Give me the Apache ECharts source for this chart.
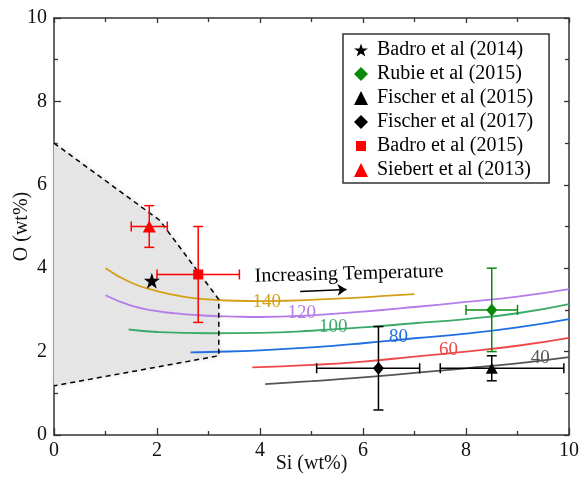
<!DOCTYPE html>
<html>
<head>
<meta charset="utf-8">
<script src="https://cdn.jsdelivr.net/npm/echarts@6/dist/echarts.min.js"></script>
<style>html,body{margin:0;padding:0;background:#fff}#c{width:580px;height:477px}</style>
</head>
<body>
<div id="c"></div>
<script>
// ---- data ----
const xTicks = [0, 2, 4, 6, 8, 10];
const yTicks = [0, 2, 4, 6, 8, 10];
// measured points: [x, y, xLow, xHigh, yLow, yHigh]
const badro2014 = [[1.9, 3.7]];
const rubie2015 = [[8.5, 3.0, 8.0, 9.0, 2.0, 4.0]];
const fischer2015 = [[8.5, 1.6, 7.5, 9.9, 1.3, 1.9]];
const fischer2017 = [[6.3, 1.6, 5.1, 7.1, 0.6, 2.6]];
const badro2015 = [[2.8, 3.85, 2.0, 3.6, 2.7, 5.0]];
const siebert2013 = [[1.85, 5.0, 1.5, 2.2, 4.5, 5.5]];
// isotherm-like curves
const curve140 = [[1.0,4.0],[1.5,3.65],[2,3.45],[2.5,3.32],[3,3.25],[3.5,3.22],[4,3.21],[4.5,3.22],[5,3.24],[5.5,3.27],[6,3.3],[6.5,3.34],[7,3.38]];
const curve120 = [[1.0,3.35],[1.5,3.1],[2,2.97],[2.5,2.9],[3,2.86],[3.5,2.84],[4,2.83],[5,2.87],[6,2.96],[7,3.07],[8,3.19],[9,3.32],[10,3.5]];
const curve100 = [[1.45,2.53],[2,2.47],[3,2.44],[4,2.45],[5,2.5],[6,2.58],[7,2.68],[8,2.78],[9,2.92],[10,3.14]];
const curve80 = [[2.65,1.98],[3,1.99],[4,2.03],[5,2.1],[6,2.2],[7,2.32],[8,2.43],[9,2.58],[10,2.78]];
const curve60 = [[3.85,1.62],[5,1.68],[6,1.76],[7,1.88],[8,2.0],[9,2.14],[10,2.33]];
const curve40 = [[4.1,1.22],[5,1.29],[6,1.38],[7,1.49],[8,1.6],[9,1.72],[10,1.87]];
const curveLabels = ['140', '120', '100', '80', '60', '40'];
const curveLabelPos = [[4.13,3.2],[4.81,2.92],[5.42,2.58],[6.69,2.34],[7.66,2.04],[9.44,1.84]];
// shaded region outline
const regionOutline = [[0,7.0],[2.05,5.15],[3.2,3.25],[3.2,1.9],[0,1.18]];
const arrowText = 'Increasing Temperature';
const arrowTextPos = [[5.73, 3.86]];
const arrowLine = [[4.78, 3.44],[5.68, 3.49]];

// ---- chart ----
const FONT = 'Liberation Serif';
const curveColors = ['#d4a017','#b57be8','#3aaa6a','#1f6fe0','#f04848','#555555'];
const STAR = 'path://M50,0 L61.8,35.3 L99,35.3 L69,57.3 L80.4,92.7 L50,70.8 L19.6,92.7 L31,57.3 L1,35.3 L38.2,35.3 Z';
const SMALLRECT = 'path://M0,0 L100,0 L100,100 L0,100 Z M-20,-20 L-20,-20.01 Z M120,120 L120,120.01 Z';

function errRender(color) {
  return function (params, api) {
    const y = api.value(1), x = api.value(0);
    const a = api.coord([api.value(2), y]), b = api.coord([api.value(3), y]);
    const c = api.coord([x, api.value(4)]), d = api.coord([x, api.value(5)]);
    const cap = 5;
    const st = { stroke: color, lineWidth: 1.5, fill: null };
    const L = (x1,y1,x2,y2) => ({ type: 'line', shape: {x1,y1,x2,y2}, style: st });
    return { type: 'group', children: [
      L(a[0],a[1],b[0],b[1]), L(a[0],a[1]-cap,a[0],a[1]+cap), L(b[0],b[1]-cap,b[0],b[1]+cap),
      L(c[0],c[1],d[0],d[1]), L(c[0]-cap,c[1],c[0]+cap,c[1]), L(d[0]-cap,d[1],d[0]+cap,d[1])
    ]};
  };
}
function errSeries(data, color) {
  return { type: 'custom', renderItem: errRender(color), data: data,
    encode: { x: [0,2,3], y: [1,4,5] }, z: 5, silent: true };
}

const curves = [curve140, curve120, curve100, curve80, curve60, curve40];
const series = [];
series.push({
  type: 'custom', silent: true, z: 1,
  data: [0],
  renderItem: function (params, api) {
    const pts = regionOutline.map(p => api.coord(p));
    return { type: 'polygon', shape: { points: pts },
      style: { fill: '#e5e5e5', shadowBlur: 6, shadowColor: '#e5e5e5' } };
  }
});
curves.forEach((c, i) => series.push({
  type: 'line', data: c, smooth: true, showSymbol: false, silent: true, z: 2,
  lineStyle: { color: curveColors[i], width: 1.8 }
}));
series.push({
  type: 'line', data: regionOutline, showSymbol: false, silent: true, z: 3,
  lineStyle: { color: '#000', width: 1.5, type: [5, 4] }
});
series.push({
  type: 'scatter', symbolSize: 1, silent: true, z: 6, itemStyle: { color: 'rgba(0,0,0,0)', opacity: 1 },
  data: curveLabelPos.map((p, i) => ({ value: p, label: { color: curveColors[i] }, name: curveLabels[i] })),
  label: { show: true, position: 'inside', formatter: '{b}', fontFamily: FONT, fontSize: 19, opacity: 1 }
});
series.push({
  type: 'scatter', symbolSize: 1, silent: true, z: 6, itemStyle: { color: 'rgba(0,0,0,0)', opacity: 1 },
  data: arrowTextPos.map(p => ({ value: p, name: arrowText })),
  label: { show: true, position: 'inside', formatter: '{b}', fontFamily: FONT, fontSize: 20, color: '#000', rotate: 1.5, opacity: 1 }
});
series.push({
  type: 'lines', coordinateSystem: 'cartesian2d', silent: true, z: 6,
  data: [{ coords: arrowLine }],
  symbol: ['none', 'arrow'], symbolSize: 9,
  lineStyle: { color: '#000', width: 1.5, opacity: 1 }
});
series.push(errSeries(rubie2015, '#0a8a0a'));
series.push(errSeries(fischer2015, '#000'));
series.push(errSeries(fischer2017, '#000'));
series.push(errSeries(badro2015, '#ff0000'));
series.push(errSeries(siebert2013, '#ff0000'));
function pts(d) { return d.map(r => [r[0], r[1]]); }
const mk = (name, data, symbol, size, color) => ({ name, type: 'scatter', data: pts(data), symbol, symbolSize: size, itemStyle: { color, opacity: 1 }, z: 7 });
series.push(mk('Badro et al (2014)', badro2014, STAR, 16, '#000'));
series.push(mk('Rubie et al (2015)', rubie2015, 'diamond', [11, 13], '#0a8a0a'));
series.push(mk('Fischer et al (2015)', fischer2015, 'triangle', [12, 11], '#000'));
series.push(mk('Fischer et al (2017)', fischer2017, 'diamond', [11, 13], '#000'));
series.push(mk('Badro et al (2015)', badro2015, 'rect', 10, '#ff0000'));
series.push(mk('Siebert et al (2013)', siebert2013, 'triangle', [13, 12], '#ff0000'));

const axisCommon = {
  type: 'value', min: xTicks[0], max: xTicks[xTicks.length-1], interval: 2,
  splitLine: { show: false },
  axisLine: { onZero: false, lineStyle: { color: '#333', width: 1.5 } },
  axisTick: { inside: true, length: 7, lineStyle: { color: '#333', width: 1.3 } },
  minorTick: { show: true, splitNumber: 2, length: 4, lineStyle: { color: '#333', width: 1.3 } },
  axisLabel: { fontFamily: FONT, fontSize: 20, color: '#111' }
};

const option = {
  animation: false,
  backgroundColor: '#fff',
  grid: { left: 54, right: 11, top: 18, bottom: 42, containLabel: false, outerBoundsMode: 'none' },
  legend: {
    orient: 'vertical', left: 343, top: 34,
    padding: [6, 16, 3, 11], itemGap: 4, itemWidth: 14, itemHeight: 14,
    borderColor: '#333', borderWidth: 1.5, backgroundColor: '#fff',
    textStyle: { fontFamily: FONT, fontSize: 20, color: '#000', padding: [0,0,0,4] },
    data: [
      { name: 'Badro et al (2014)', icon: STAR },
      { name: 'Rubie et al (2015)', icon: 'diamond' },
      { name: 'Fischer et al (2015)', icon: 'triangle' },
      { name: 'Fischer et al (2017)', icon: 'diamond' },
      { name: 'Badro et al (2015)', icon: SMALLRECT },
      { name: 'Siebert et al (2013)', icon: 'triangle' }
    ]
  },
  xAxis: [
    Object.assign({}, axisCommon, { position: 'bottom', name: 'Si (wt%)', nameLocation: 'middle', nameGap: 19, nameMoveOverlap: false,
      nameTextStyle: { fontFamily: FONT, fontSize: 20, color: '#111' }, axisLabel: Object.assign({}, axisCommon.axisLabel, { margin: 6 }) }),
    Object.assign({}, axisCommon, { position: 'top', axisLabel: { show: false }, axisTick: Object.assign({}, axisCommon.axisTick, { length: 5 }) })
  ],
  yAxis: [
    Object.assign({}, axisCommon, { min: yTicks[0], max: yTicks[yTicks.length-1], position: 'left', name: 'O (wt%)', nameLocation: 'middle', nameGap: 22, nameMoveOverlap: false,
      nameTextStyle: { fontFamily: FONT, fontSize: 20, color: '#111' }, axisLabel: Object.assign({}, axisCommon.axisLabel, { margin: 7 }) }),
    Object.assign({}, axisCommon, { min: yTicks[0], max: yTicks[yTicks.length-1], position: 'right', axisLabel: { show: false }, axisTick: Object.assign({}, axisCommon.axisTick, { length: 5 }) })
  ],
  series: series
};
const chart = echarts.init(document.getElementById('c'), null, { renderer: 'canvas' });
chart.setOption(option);
</script>
</body>
</html>
